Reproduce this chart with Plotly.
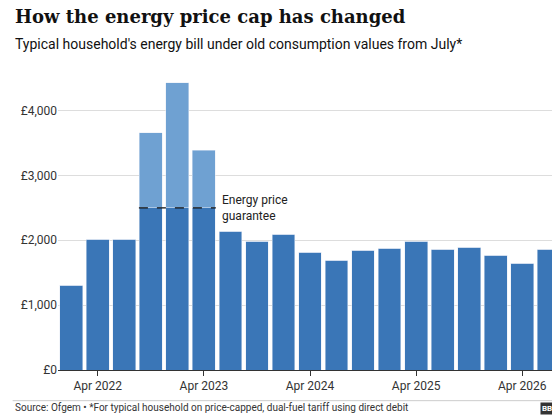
import plotly.graph_objects as go

quarters = ["Jan 2022", "Apr 2022", "Jul 2022", "Oct 2022", "Jan 2023", "Apr 2023",
            "Jul 2023", "Oct 2023", "Jan 2024", "Apr 2024", "Jul 2024", "Oct 2024",
            "Jan 2025", "Apr 2025", "Jul 2025", "Oct 2025", "Jan 2026", "Apr 2026", "Jul 2026"]
bill = [1310, 2015, 2015, 3660, 4430, 3385, 2140, 1985, 2090, 1815, 1690, 1845,
        1875, 1985, 1860, 1890, 1770, 1645, 1860]
guarantee = 2500
guarantee_idx = [3, 4, 5]
tick_idx = [1, 5, 9, 13, 17]
tick_text = ["Apr 2022", "Apr 2023", "Apr 2024", "Apr 2025", "Apr 2026"]

x = list(range(len(quarters)))
base = [min(v, guarantee) if i in guarantee_idx else v for i, v in enumerate(bill)]
extra = [v - b for v, b in zip(bill, base)]

fig = go.Figure()
fig.add_bar(x=x, y=base, marker_color="#3a76b7", hovertext=quarters)
fig.add_bar(x=x, y=extra, marker_color="#6fa1d2", hovertext=quarters)
fig.add_scatter(x=[guarantee_idx[0] - 0.45, guarantee_idx[-1] + 0.45], y=[guarantee, guarantee],
                mode="lines", line=dict(color="#111", width=1.2, dash="dash"))
fig.add_annotation(x=guarantee_idx[-1] + 0.6, y=guarantee, text="Energy price<br>guarantee",
                   xanchor="left", yanchor="middle", showarrow=False, align="left",
                   font=dict(size=12, color="#222"))

fig.update_layout(
    barmode="stack", bargap=0.14, showlegend=False,
    width=560, height=420, plot_bgcolor="white", paper_bgcolor="white",
    margin=dict(l=50, r=6, t=70, b=58),
    font=dict(family="Roboto, Arial, sans-serif", size=12, color="#333"),
    xaxis=dict(tickvals=tick_idx, ticktext=tick_text, range=[-0.5, len(x) - 0.5],
               ticks="outside", ticklen=5, tickcolor="#333", showline=True,
               linecolor="#333", tickfont=dict(size=12)),
    yaxis=dict(range=[0, 4500], dtick=1000, tickprefix="£", tickformat=",d",
               gridcolor="#dddddd", zeroline=False, tickfont=dict(size=12)),
)
fig.add_annotation(xref="paper", yref="paper", x=-0.09, y=1.255, xanchor="left",
                   text="<b>How the energy price cap has changed</b>", showarrow=False,
                   font=dict(family="DejaVu Serif", size=18, color="#111"))
fig.add_annotation(xref="paper", yref="paper", x=-0.09, y=1.15, xanchor="left",
                   text="Typical household's energy bill under old consumption values from July*",
                   showarrow=False, font=dict(size=14, color="#111"))
fig.add_shape(type="line", xref="paper", yref="paper", x0=-0.09, x1=1.01, y0=-0.105, y1=-0.105,
              line=dict(color="#ccc", width=1))
fig.add_annotation(xref="paper", yref="paper", x=-0.09, y=-0.155, xanchor="left",
                   text="Source: Ofgem • *For typical household on price-capped, dual-fuel tariff using direct debit",
                   showarrow=False, font=dict(size=10, color="#333"))
fig.add_annotation(xref="paper", yref="paper", x=0.995, y=-0.155, xanchor="right",
                   text="<b>BBC</b>", showarrow=False, bgcolor="#333",
                   font=dict(size=8, color="white"))
fig.write_html("out.html")
